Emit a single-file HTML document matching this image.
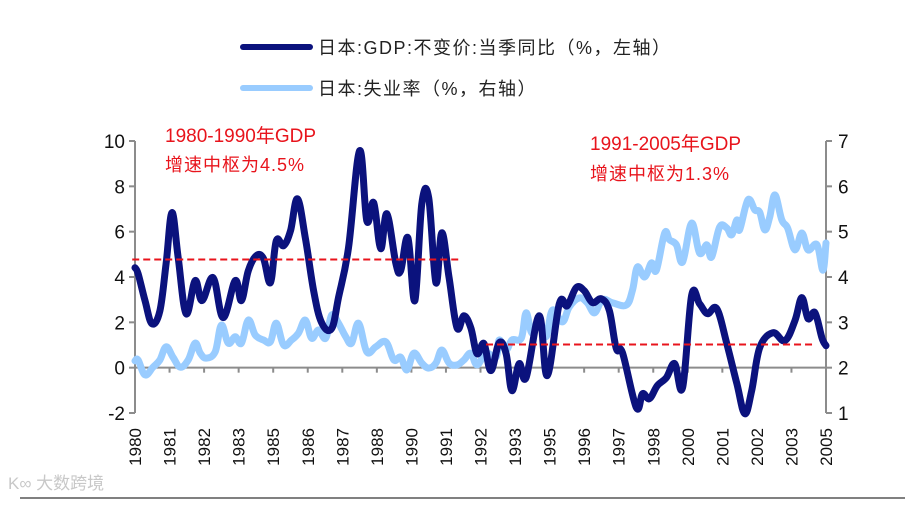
<!DOCTYPE html>
<html><head><meta charset="utf-8">
<style>
html,body{margin:0;padding:0;background:#fff;}
body{width:917px;height:503px;overflow:hidden;font-family:"Liberation Sans","Noto Sans CJK SC",sans-serif;}
svg text{font-family:"Liberation Sans","Noto Sans CJK SC",sans-serif;}
</style></head>
<body>
<svg id="chart" width="917" height="503" viewBox="0 0 917 503" xmlns="http://www.w3.org/2000/svg">
  <g id="legend">
    <line x1="243" y1="47" x2="310" y2="47" stroke="#0b127d" stroke-width="6" stroke-linecap="round"/>
    <text x="318" y="54" font-size="18" fill="#222" letter-spacing="1.5">日本:GDP:不变价:当季同比（%，左轴）</text>
    <line x1="243" y1="88" x2="310" y2="88" stroke="#99ccff" stroke-width="6" stroke-linecap="round"/>
    <text x="318" y="95" font-size="18" fill="#222" letter-spacing="1.5">日本:失业率（%，右轴）</text>
  </g>
  <g id="axes"></g>
  <g id="marks"></g>
  <g>
    <text x="165" y="142" font-size="19" fill="#e8141c">1980-1990年GDP</text>
    <text x="165" y="171" font-size="18" fill="#e8141c" letter-spacing="1">增速中枢为4.5%</text>
  </g>
  <g>
    <text x="590" y="150" font-size="19" fill="#e8141c">1991-2005年GDP</text>
    <text x="590" y="180" font-size="18" fill="#e8141c" letter-spacing="1">增速中枢为1.3%</text>
  </g>
  <line x1="20" y1="498" x2="905" y2="498" stroke="#000" stroke-width="1"/>
  <text x="8" y="489" font-size="17" fill="#c8c8c8">K∞ 大数跨境</text>
</svg>
<script>
const xLabels = ["1980","1981","1982","1983","1985","1986","1987","1988","1990","1991","1992","1993","1995","1996","1997","1998","2000","2001","2002","2003","2005"];
const leftTicks = [-2,0,2,4,6,8,10];
const rightTicks = [1,2,3,4,5,6,7];
const gdpT = [0,0.09,0.29,0.49,0.72,0.9,1.07,1.25,1.48,1.74,1.94,2.26,2.55,2.9,3.08,3.28,3.51,3.72,3.92,4.09,4.3,4.5,4.7,4.93,5.17,5.4,5.69,5.89,6.18,6.5,6.71,6.91,7.11,7.29,7.55,7.69,7.9,8.1,8.3,8.5,8.71,8.88,9.09,9.32,9.52,9.72,9.9,10.1,10.3,10.54,10.74,10.91,11.12,11.32,11.7,11.93,12.28,12.51,12.77,13.0,13.24,13.5,13.73,13.93,14.11,14.51,14.69,14.89,15.12,15.38,15.62,15.85,16.11,16.34,16.57,16.84,17.13,17.42,17.65,17.85,18.08,18.46,18.81,19.1,19.3,19.48,19.68,19.88,20];
const gdpValues = [4.41,4.15,2.96,1.94,2.51,4.59,6.84,4.85,2.38,3.84,2.96,3.97,2.21,3.84,2.96,4.28,4.94,4.81,3.75,5.6,5.38,6.04,7.45,5.73,3.4,1.99,1.72,3.09,5.29,9.57,6.48,7.28,5.25,6.79,4.59,4.28,5.73,2.96,7.23,7.5,3.75,5.95,3.97,1.76,2.29,1.76,0.62,1.06,-0.13,1.1,0.62,-1.01,0.18,-0.44,2.29,-0.35,2.82,2.73,3.53,3.4,2.87,3.04,2.51,0.84,0.66,-1.76,-1.15,-1.37,-0.79,-0.44,0.18,-0.88,3.18,2.82,2.38,2.6,1.06,-0.71,-2.03,-1.01,0.88,1.54,1.19,2.07,3.09,2.16,2.43,1.32,0.97];
const unT = [0,0.09,0.29,0.52,0.72,0.9,1.1,1.31,1.54,1.74,1.89,2.06,2.32,2.5,2.7,2.9,3.08,3.28,3.48,3.72,3.92,4.09,4.3,4.53,4.73,4.93,5.11,5.31,5.52,5.69,5.89,6.1,6.27,6.47,6.71,6.97,7.26,7.49,7.69,7.87,8.07,8.3,8.5,8.71,8.88,9.09,9.32,9.52,9.72,9.9,10.16,10.45,10.54,10.74,10.91,11.18,11.32,11.49,11.7,11.9,12.08,12.37,12.57,12.86,13.09,13.3,13.53,13.82,14.22,14.4,14.54,14.75,14.95,15.09,15.33,15.47,15.67,15.85,16.11,16.34,16.55,16.69,16.92,17.13,17.27,17.42,17.5,17.74,17.94,18.08,18.23,18.37,18.52,18.72,18.89,19.1,19.3,19.48,19.74,19.91,20];
const unValues = [2.15,2.17,1.84,2.01,2.17,2.46,2.23,2.01,2.17,2.54,2.32,2.21,2.35,2.94,2.54,2.68,2.54,3.05,2.72,2.61,2.57,2.98,2.5,2.61,2.76,3.05,2.65,2.83,2.65,3.16,2.98,2.68,2.54,2.98,2.35,2.46,2.57,2.17,2.23,1.95,2.32,2.1,1.99,2.1,2.39,2.1,2.06,2.17,2.32,2.06,2.32,2.23,2.61,2.39,2.61,2.65,3.21,2.76,3.05,2.68,3.27,3.01,3.34,3.54,3.43,3.21,3.5,3.43,3.38,3.71,4.22,4.0,4.31,4.15,4.97,4.82,4.71,4.33,5.19,4.53,4.71,4.44,5.1,5.08,4.93,5.26,5.04,5.7,5.48,5.43,5.04,5.32,5.81,5.26,5.08,4.6,4.97,4.6,4.71,4.15,4.75];
const centerLevels = [4.77, 1.02];
const centerStart = [-0.08, 10.16];
const centerEnd = [9.43, 19.68];

const NS = "http://www.w3.org/2000/svg";
const X0 = 135, X1 = 826, YT = 141, YB = 413;
const xScale = t => X0 + t * (X1 - X0) / (xLabels.length - 1);
const yLeft = v => YB - (v - leftTicks[0]) * (YB - YT) / (leftTicks[leftTicks.length-1] - leftTicks[0]);
const yRight = v => YB - (v - rightTicks[0]) * (YB - YT) / (rightTicks[rightTicks.length-1] - rightTicks[0]);
function mk(tag, attrs, parent){ const e=document.createElementNS(NS,tag); for(const k in attrs) e.setAttribute(k,attrs[k]); parent.appendChild(e); return e; }
function smooth(p){
  let d='M'+p[0][0].toFixed(1)+','+p[0][1].toFixed(1);
  const k=0.18;
  for(let i=0;i<p.length-1;i++){
    const p0=p[i-1]||p[i], p1=p[i], p2=p[i+1], p3=p[i+2]||p2;
    const c1=[p1[0]+(p2[0]-p0[0])*k, p1[1]+(p2[1]-p0[1])*k];
    const c2=[p2[0]-(p3[0]-p1[0])*k, p2[1]-(p3[1]-p1[1])*k];
    d+=' C'+c1[0].toFixed(1)+','+c1[1].toFixed(1)+' '+c2[0].toFixed(1)+','+c2[1].toFixed(1)+' '+p2[0].toFixed(1)+','+p2[1].toFixed(1);
  }
  return d;
}
const axes = document.getElementById('axes');
const marks = document.getElementById('marks');
const AX = "#8c8c8c";

let el = mk('line',{x1:X0,y1:YT,x2:X0,y2:YB,stroke:AX,'stroke-width':2},axes);


el = mk('line',{x1:X1,y1:YT,x2:X1,y2:YB,stroke:AX,'stroke-width':2},axes);


el = mk('line',{x1:X0,y1:yLeft(0),x2:X1,y2:yLeft(0),stroke:AX,'stroke-width':2},axes);



leftTicks.forEach(v=>{
  const y=yLeft(v);
  let t=mk('line',{x1:X0-6,y1:y,x2:X0,y2:y,stroke:AX,'stroke-width':2},axes);
  
  
  let l=mk('text',{x:X0-10,y:y+7,'font-size':19,'text-anchor':'end',fill:'#111'},axes);
  
  
  l.textContent=v;
});
rightTicks.forEach(v=>{
  const y=yRight(v);
  let t=mk('line',{x1:X1,y1:y,x2:X1+6,y2:y,stroke:AX,'stroke-width':2},axes);
  
  
  let l=mk('text',{x:X1+12,y:y+7,'font-size':19,'text-anchor':'start',fill:'#111'},axes);
  
  
  l.textContent=v;
});
xLabels.forEach((s,i)=>{
  const x=xScale(i), y0=yLeft(0);
  let t=mk('line',{x1:x,y1:y0,x2:x,y2:y0+5,stroke:AX,'stroke-width':2},axes);
  
  
  let l=mk('text',{x:0,y:0,'font-size':17,'text-anchor':'end',fill:'#111',transform:`translate(${x+6},${428}) rotate(-90)`},axes);
  
  
  l.textContent=s;
});

const unPts = unT.map((t,i)=>[xScale(t), yRight(unValues[i])]);
let un = mk('path',{d:smooth(unPts),fill:'none',stroke:'#99ccff','stroke-width':7,'stroke-linejoin':'round','stroke-linecap':'round'},marks);



const gdpPts = gdpT.map((t,i)=>[xScale(t), yLeft(gdpValues[i])]);
let gd = mk('path',{d:smooth(gdpPts),fill:'none',stroke:'#0b127d','stroke-width':7,'stroke-linejoin':'round','stroke-linecap':'round'},marks);



centerLevels.forEach((v,i)=>{
  let d=mk('line',{x1:xScale(centerStart[i]),y1:yLeft(v),x2:xScale(centerEnd[i]),y2:yLeft(v),stroke:'#e8141c','stroke-width':2,'stroke-dasharray':'7,4'},marks);
  
  
});
</script>
</body></html>
